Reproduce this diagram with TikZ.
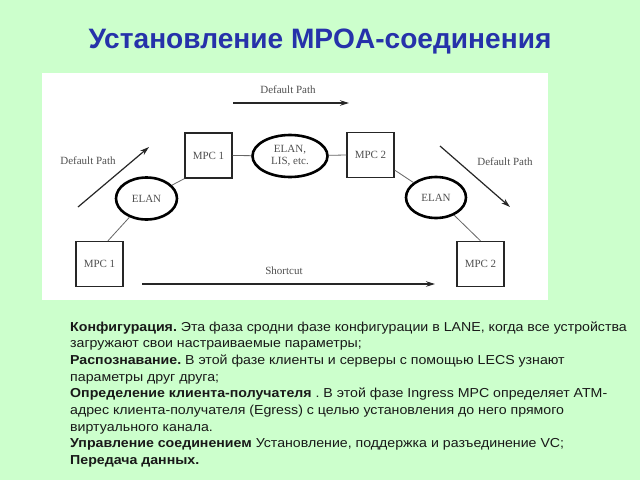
\documentclass[tikz,border=0pt]{standalone}
\usepackage{fontspec}
\setmainfont{Liberation Sans}
\newfontfamily\diagserif{Liberation Serif}
\newfontfamily\bodyfont[FakeStretch=1.09]{Liberation Sans}
\usetikzlibrary{arrows.meta,shapes.geometric}
\definecolor{bg}{RGB}{204,255,204}
\definecolor{titleblue}{RGB}{38,50,170}
\definecolor{labelgray}{RGB}{80,80,80}
\frenchspacing
\begin{document}
\begin{tikzpicture}[x=1pt,y=-1pt,
  box/.style={draw=black!85, line width=1.3pt, minimum width=47pt, minimum height=45pt, inner sep=0pt,
    font=\diagserif\fontsize{11}{12}\selectfont, text=labelgray},
  elan/.style={ellipse, draw=black, line width=2.6pt, inner sep=0pt, align=center,
    font=\diagserif\fontsize{11}{12}\selectfont, text=labelgray},
  link/.style={draw=black!60, line width=0.8pt},
  patharrow/.style={draw=black!85, line width=1.2pt, -{Stealth[length=9pt,width=5.5pt]}},
  lbl/.style={font=\diagserif\fontsize{11}{12}\selectfont, text=labelgray, inner sep=0pt},
  bodyline/.style={anchor=base west, inner sep=0pt, text=black!90, font=\bodyfont\fontsize{13}{15}\selectfont}]
\useasboundingbox (0,0) rectangle (640,480);
\fill[bg] (0,0) rectangle (640,480);
\fill[white] (42,73) rectangle (548,300);

\node[font=\bfseries\fontsize{28.1}{30}\selectfont, text=titleblue, anchor=base, inner sep=0pt] (title) at (320,48) {Установление MPOA-соединения};

% diagram nodes
\node[box] (mpcA) at (208.5,155.5) {MPC 1};
\node[elan, minimum width=75pt, minimum height=42pt] (elanC) at (290,156) {ELAN,\\LIS, etc.};
\node[box] (mpcB) at (370.5,155) {MPC 2};
\node[elan, minimum width=61pt, minimum height=42pt] (elanL) at (146.5,198.5) {ELAN};
\node[elan, minimum width=60pt, minimum height=41pt] (elanR) at (436,197.5) {ELAN};
\node[box] (mpcL) at (99.5,264) {MPC 1};
\node[box] (mpcR) at (480.5,264) {MPC 2};

\draw[link] (mpcA.east) -- (elanC);
\draw[link] (elanC) -- (mpcB.west);
\draw[link] (elanL) -- (mpcA.south west);
\draw[link] (mpcL.70) -- (elanL);
\draw[link] (mpcB.-32) -- (elanR);
\draw[link] (elanR) -- (mpcR.north);

% path arrows
\coordinate (topS) at (233,103); \coordinate (topE) at (349,103);
\coordinate (leftS) at (78,207); \coordinate (leftE) at (149,147);
\coordinate (rightS) at (440,146); \coordinate (rightE) at (510,207);
\coordinate (shortS) at (142,284); \coordinate (shortE) at (435,284);
\draw[patharrow] (topS) -- (topE);
\draw[patharrow] (leftS) -- (leftE);
\draw[patharrow] (rightS) -- (rightE);
\draw[patharrow] (shortS) -- (shortE);

\node[lbl] (lblTop) at (288,90) {Default Path};
\node[lbl] (lblLeft) at (88,161) {Default Path};
\node[lbl] (lblRight) at (505,162) {Default Path};
\node[lbl] (lblShort) at (284,271) {Shortcut};

% text block
\node[bodyline] (body1) at (70,331) {\textbf{Конфигурация.} Эта фаза сродни фазе конфигурации в LANE, когда все устройства};
\node[bodyline] (body2) at (70,347.7) {загружают свои настраиваемые параметры;};
\node[bodyline] (body3) at (70,364.4) {\textbf{Распознавание.} В этой фазе клиенты и серверы с помощью LECS узнают};
\node[bodyline] (body4) at (70,381.1) {параметры друг друга;};
\node[bodyline] (body5) at (70,397.8) {\textbf{Определение клиента-получателя} . В этой фазе Ingress MPC определяет ATM-};
\node[bodyline] (body6) at (70,414.5) {адрес клиента-получателя (Egress) с целью установления до него прямого};
\node[bodyline] (body7) at (70,431.2) {виртуального канала.};
\node[bodyline] (body8) at (70,447.9) {\textbf{Управление соединением} Установление, поддержка и разъединение VC;};
\node[bodyline] (body9) at (70,464.6) {\textbf{Передача данных.}};
\end{tikzpicture}
\end{document}
